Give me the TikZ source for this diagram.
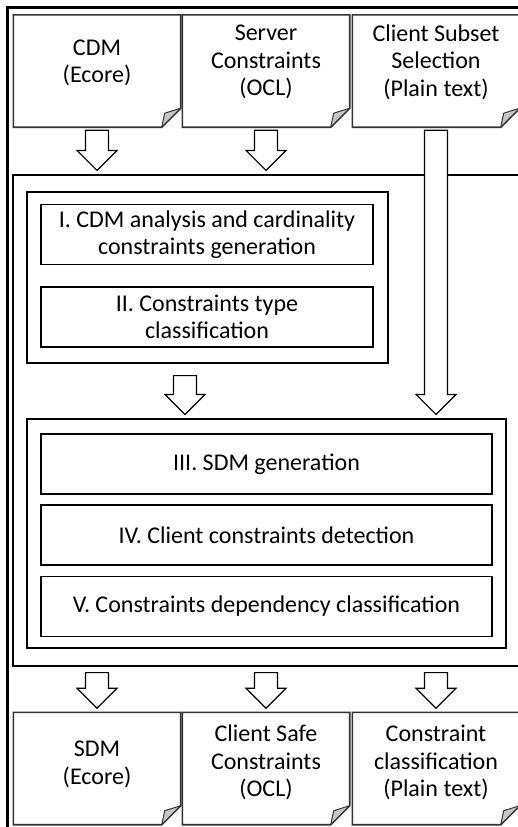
\documentclass[tikz,border=0pt]{standalone}
\usepackage{fontspec}
\setmainfont{Carlito}
\usepackage{tikz}
\usetikzlibrary{calc}

\tikzset{
  frame/.style={draw, line width=1.2pt, inner sep=0pt},
  box/.style={draw, line width=1.2pt, minimum height=60pt, align=center, inner sep=0pt},
  doc/.style={draw=none, minimum width=167pt, minimum height=112pt, inner sep=0pt},
  docline/.style={draw=black!80, line width=1.6pt, line join=miter},
  flap/.style={draw=black!80, fill=gray!45, line width=1pt, line join=round},
  hollow/.style={draw, fill=white, line width=1.2pt, line join=miter}
}

% hollow block arrow, shaft starts at #1, tip just above the top of #2
\newcommand\blockarrow[2]{%
  \draw[hollow] let \p1=(#1), \p2=(#2) in
    (\x1-11.5pt,\y1) -- (\x1-11.5pt,\y2+24pt) -- (\x1-20pt,\y2+24pt) -- (\x1,\y2+4pt)
    -- (\x1+20pt,\y2+24pt) -- (\x1+11.5pt,\y2+24pt) -- (\x1+11.5pt,\y1) -- cycle;}

\begin{document}
\begin{tikzpicture}
  [x=1pt,y=-1pt,font=\fontsize{24}{27.5}\selectfont,every label/.style={align=center}]
  \useasboundingbox (0,0) rectangle (518,827);
  \clip (0,0) rectangle (518,827);

  % outer frame and tool area
  \draw[line width=2.5pt] (7.5,7.5) rectangle (600,900);
  \node[frame, minimum width=560pt, minimum height=491pt] (work) at (293,420.5) {};

  % first phase
  \node[frame, minimum width=361pt, minimum height=171pt] (phaseA) at (207.5,277.5) {};
  \node[box, minimum width=332pt] (stepI) at (207,234.5) {I. CDM analysis and cardinality\\constraints generation};
  \node[box, minimum width=332pt] (stepII) at (207,317) {II. Constraints type\\classification};

  % second phase
  \node[frame, minimum width=479pt, minimum height=229pt] (phaseB) at (266.5,533.5) {};
  \node[box, minimum width=451pt] (stepIII) at (266.5,464) {III. SDM generation};
  \node[box, minimum width=451pt] (stepIV) at (266.5,535) {IV. Client constraints detection};
  \node[box, minimum width=451pt] (stepV) at (266.5,606.5) {V. Constraints dependency classification};

  % inputs
  \node[doc, label={[yshift=8pt]center:CDM\\(Ecore)}] (cdm) at (97,71) {};
  \node[doc, label={[yshift=9pt]center:Server\\Constraints\\(OCL)}] (ocl) at (266,71) {};
  \node[doc, label={[yshift=9pt]center:Client Subset\\Selection\\(Plain text)}] (subset) at (436,71) {};

  % outputs
  \node[doc, label={[yshift=4pt]center:SDM\\(Ecore)}] (sdm) at (97,768.5) {};
  \node[doc, label={[yshift=6pt]center:Client Safe\\Constraints\\(OCL)}] (safe) at (266,768.5) {};
  \node[doc, label={[yshift=6pt]center:Constraint\\classification\\(Plain text)}] (verdict) at (436,768.5) {};

  \foreach \d in {cdm,ocl,subset,sdm,safe,verdict}
  {
    \draw[docline] (\d.north west) -- (\d.north east) -- ([yshift=19pt]\d.south east)
      -- ([xshift=-19pt]\d.south east) -- (\d.south west) -- cycle;
    \draw[flap] ([yshift=19pt]\d.south east) -- ([xshift=-16pt,yshift=14pt]\d.south east)
      -- ([xshift=-19pt]\d.south east) -- cycle;
  }

  \foreach \d in {cdm,ocl}
  {\blockarrow{[yshift=-3pt]\d.south}{work.north}}
  \blockarrow{[xshift=-22.5pt,yshift=-12pt]phaseA.south}{phaseB.north}
  \blockarrow{[yshift=-3pt]subset.south}{phaseB.north}
  \foreach \d in {sdm,safe,verdict}
  {\blockarrow{[yshift=-6pt]\d.north |- work.south}{\d.north}}
\end{tikzpicture}
\end{document}
